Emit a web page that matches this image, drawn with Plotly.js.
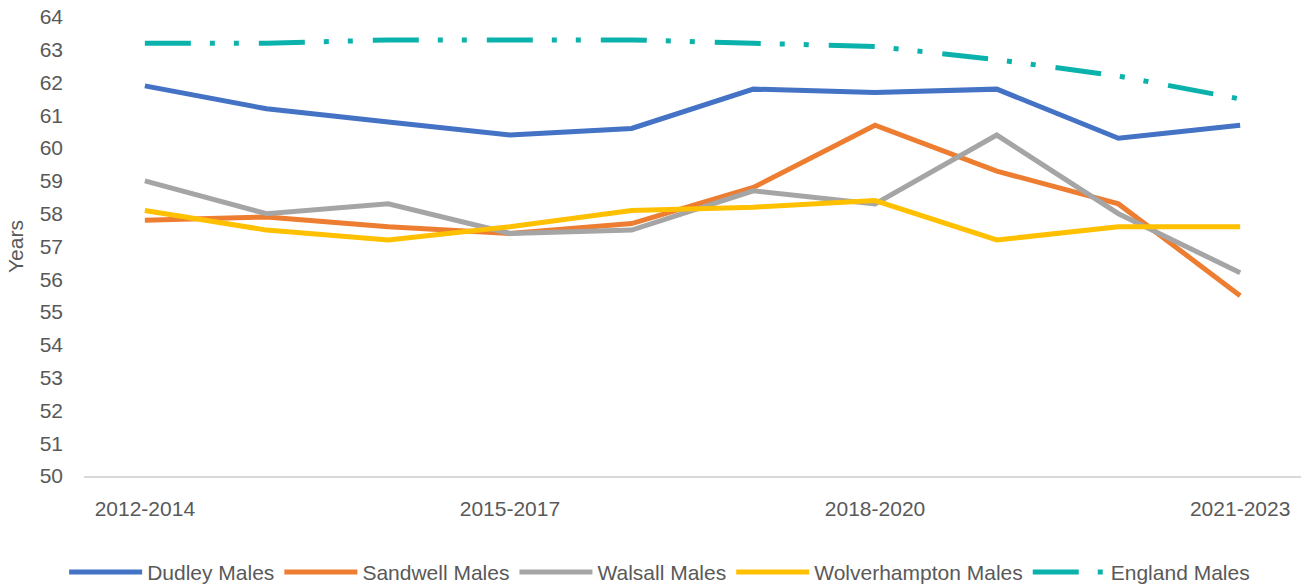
<!DOCTYPE html>
<html>
<head>
<meta charset="utf-8">
<script src="https://cdn.plot.ly/plotly-3.0.1.min.js"></script>
<style>html,body{margin:0;padding:0;background:#fff;}#chart{width:1306px;height:586px;}</style>
</head>
<body>
<div id="chart"></div>
<script>
const periods = ["2012-2014","2013-2015","2014-2016","2015-2017","2016-2018","2017-2019","2018-2020","2019-2021","2020-2022","2021-2023"];
const tickLabels = ["2012-2014","2015-2017","2018-2020","2021-2023"];
const dudley = [61.9, 61.2, 60.8, 60.4, 60.6, 61.8, 61.7, 61.8, 60.3, 60.7];
const sandwell = [57.8, 57.9, 57.6, 57.4, 57.7, 58.8, 60.7, 59.3, 58.3, 55.5];
const walsall = [59.0, 58.0, 58.3, 57.4, 57.5, 58.7, 58.3, 60.4, 58.0, 56.2];
const wolverhampton = [58.1, 57.5, 57.2, 57.6, 58.1, 58.2, 58.4, 57.2, 57.6, 57.6];
const england = [63.2, 63.2, 63.3, 63.3, 63.3, 63.2, 63.1, 62.7, 62.2, 61.5];

const series = [
  {name: "Dudley Males", y: dudley, color: "#4472C4", dash: "solid"},
  {name: "Sandwell Males", y: sandwell, color: "#ED7D31", dash: "solid"},
  {name: "Walsall Males", y: walsall, color: "#A5A5A5", dash: "solid"},
  {name: "Wolverhampton Males", y: wolverhampton, color: "#FFC000", dash: "solid"},
  {name: "England Males", y: england, color: "#0BB2AC", dash: "46px,19px,5px,19px,5px,20px"}
];

const traces = series.map(s => ({
  type: "scatter",
  mode: "lines",
  x: periods,
  y: s.y,
  name: s.name,
  line: {color: s.color, width: 5, dash: s.dash},
  hoverinfo: "x+y+name"
}));

const font = {family: "Liberation Sans, Arial, sans-serif", size: 21, color: "#595959"};

const layout = {
  width: 1306,
  height: 586,
  margin: {l: 84, r: 5, t: 17, b: 110, autoexpand: false},
  paper_bgcolor: "#fff",
  plot_bgcolor: "#fff",
  font: font,
  showlegend: true,
  legend: {
    orientation: "h",
    x: 0.473, xanchor: "center",
    y: -0.165, yanchor: "top",
    font: font,
    itemwidth: 73,
    tracegroupgap: 0
  },
  xaxis: {
    type: "category",
    range: [-0.5, 9.5],
    tickmode: "array",
    tickvals: tickLabels,
    ticktext: tickLabels,
    showgrid: false,
    zeroline: false,
    showline: true,
    linecolor: "#D9D9D9",
    linewidth: 1.5,
    ticks: "",
    ticklabelstandoff: 13,
    tickfont: font
  },
  yaxis: {
    range: [50, 64],
    dtick: 1,
    tick0: 50,
    showgrid: false,
    zeroline: false,
    showline: false,
    ticks: "",
    ticklabelstandoff: 20,
    tickfont: font,
    title: {text: "Years", font: font, standoff: 10}
  }
};

Plotly.newPlot("chart", traces, layout, {displayModeBar: false, staticPlot: true});
</script>
</body>
</html>
